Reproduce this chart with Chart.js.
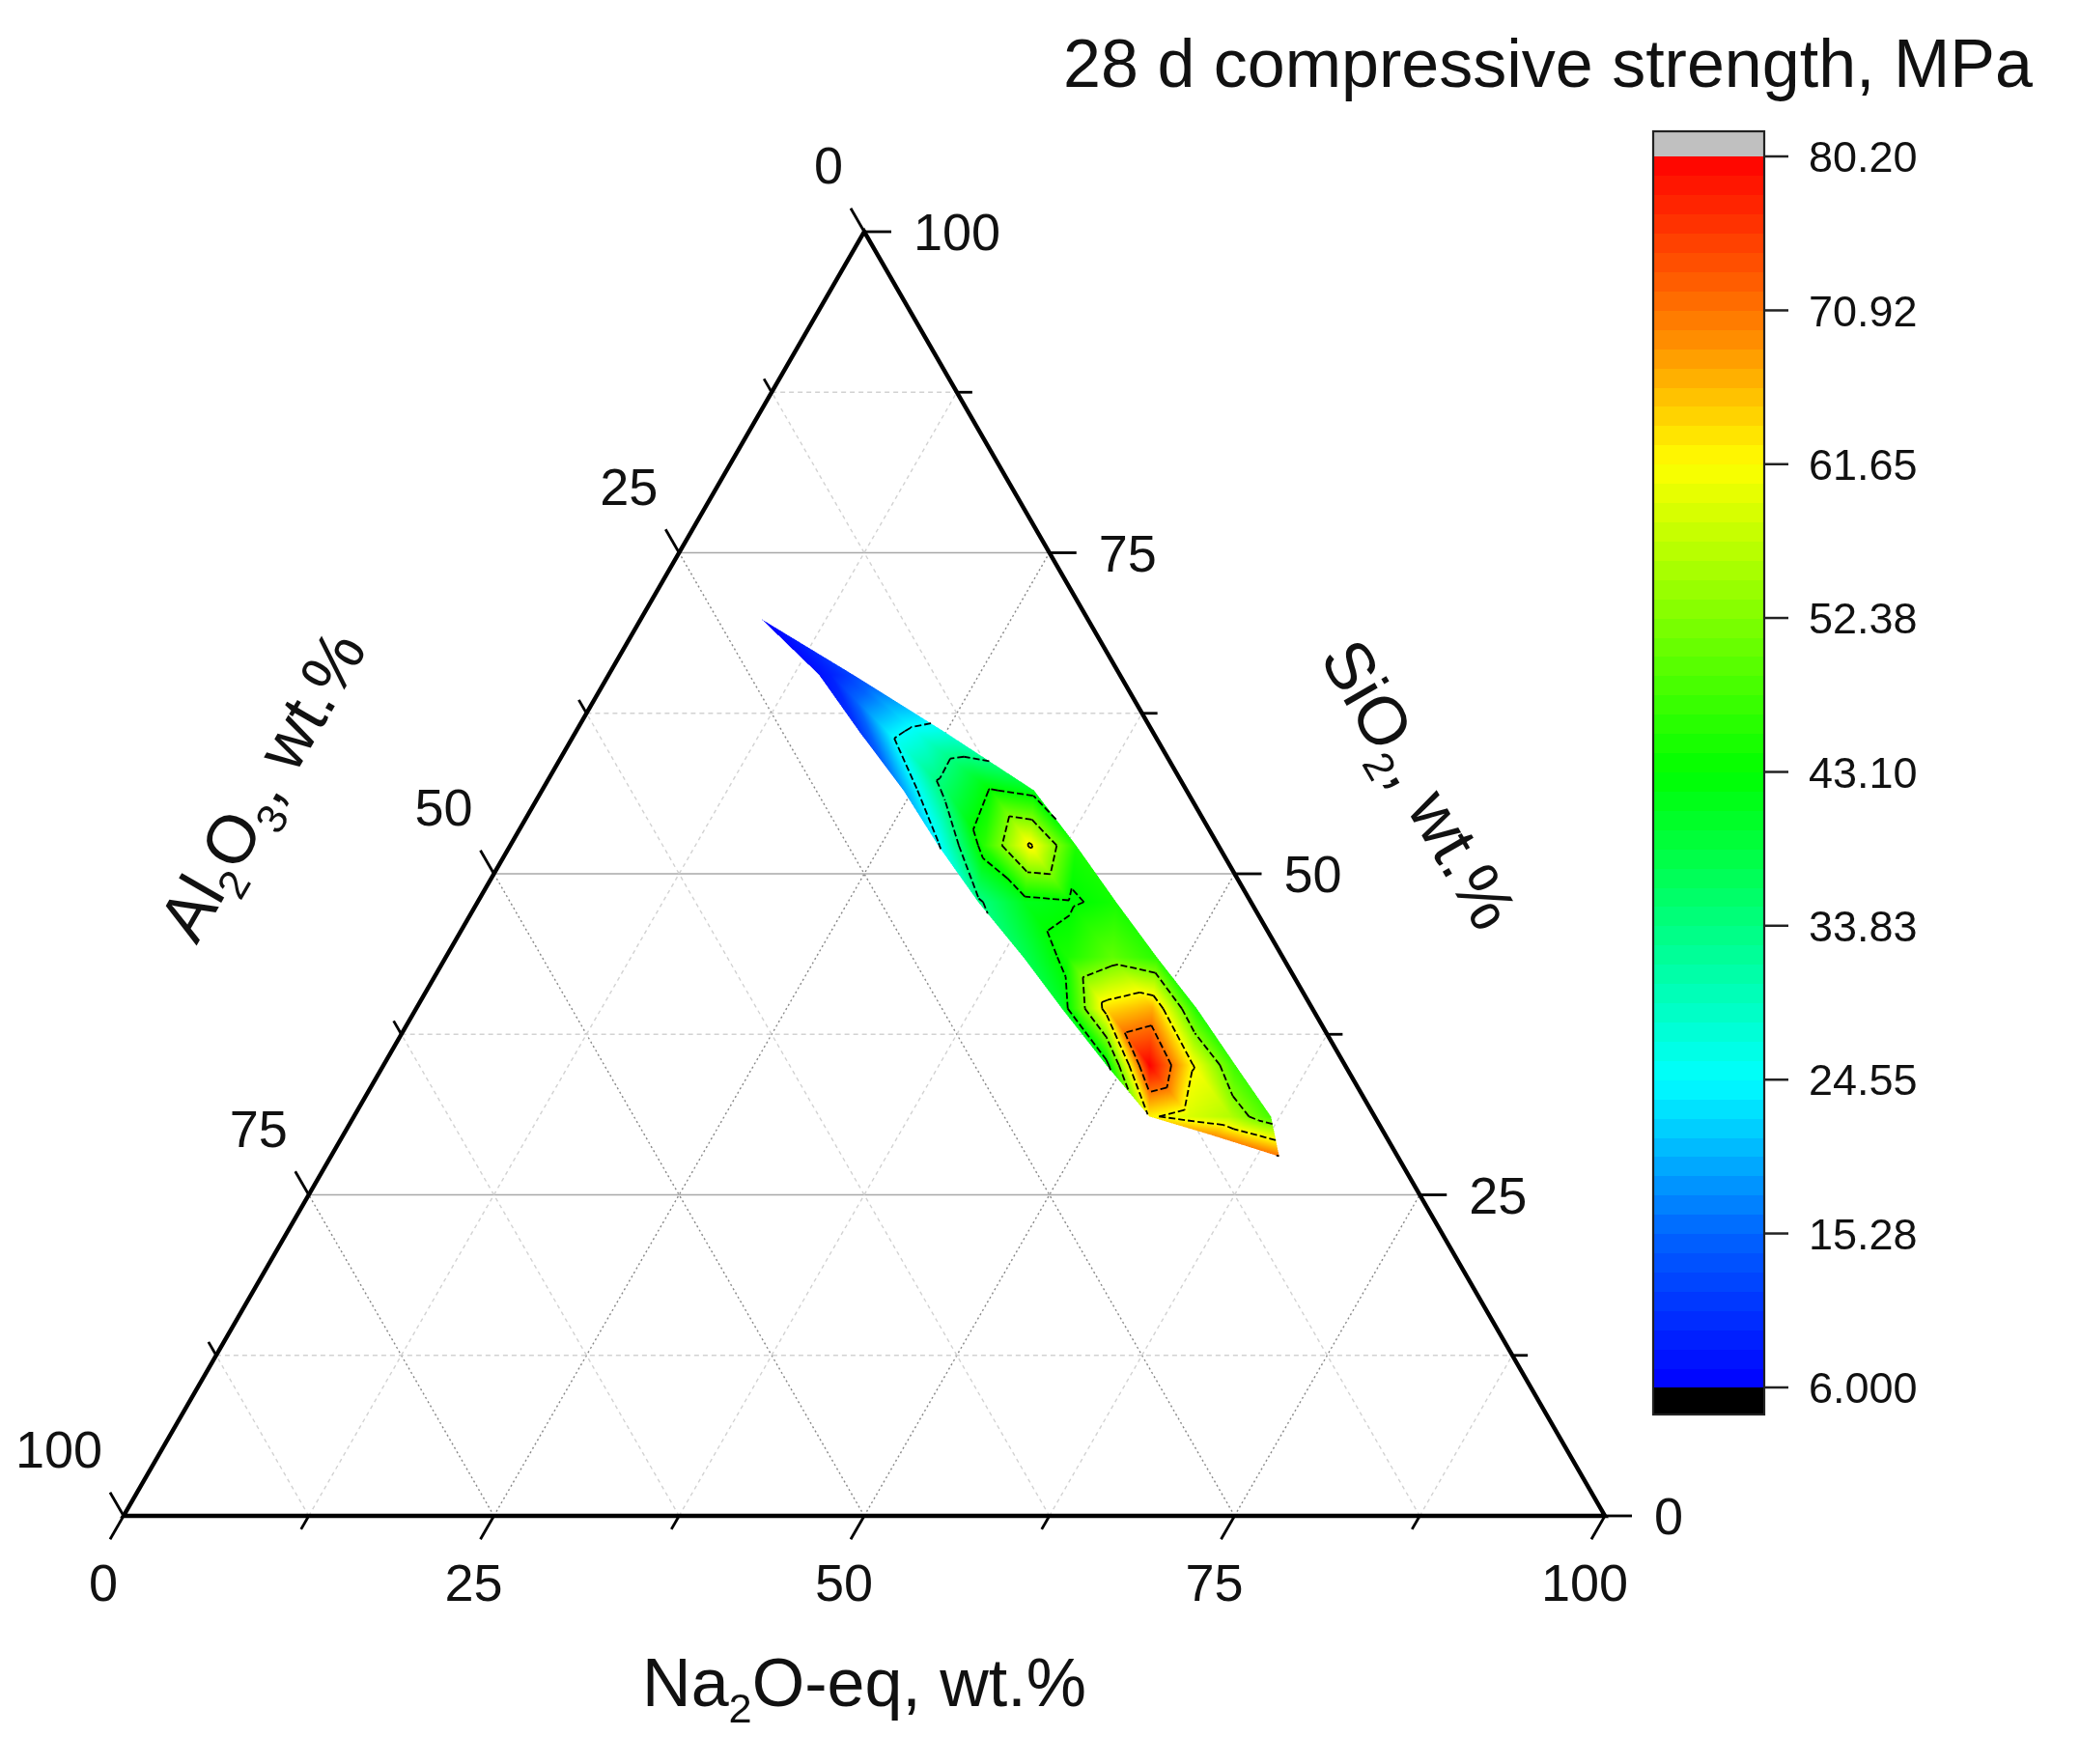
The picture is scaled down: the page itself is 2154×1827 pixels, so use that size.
<!DOCTYPE html>
<html>
<head>
<meta charset="utf-8">
<script src="https://cdn.jsdelivr.net/npm/chart.js"></script>
<style>
html, body { margin: 0; padding: 0; background: #fff; }
#wrap { width: 2154px; height: 1827px; }
</style>
</head>
<body>
<div id="wrap"><canvas id="ternary" width="2154" height="1827"></canvas></div>

<script>
// compositions (wt.%): tip point, 9 rows of 4 across the band, 2 points at the lower end
var siO2 = [69.8,
  65.5, 65.5, 65.5, 65.5,
  61.1, 61.1, 61.1, 61.1,
  56.5, 56.5, 56.5, 56.5,
  52.2, 52.2, 52.2, 52.2,
  47.8, 47.8, 47.8, 47.8,
  43.5, 43.5, 43.5, 43.5,
  39.5, 39.5, 39.5, 39.5,
  35.1, 35.1, 35.1, 35.1,
  31.1, 31.1, 31.1, 31.1,
  29.6, 28.0];
var na2O = [8.2,
  14.2, 15.0, 15.7, 16.5,
  19.1, 21.0, 22.9, 24.8,
  24.4, 27.3, 30.3, 33.2,
  28.9, 32.0, 35.1, 38.2,
  33.8, 36.9, 40.0, 43.1,
  39.0, 42.0, 45.0, 48.0,
  43.6, 46.6, 49.7, 52.7,
  48.8, 51.7, 54.6, 57.5,
  53.7, 56.4, 59.2, 61.9,
  58.8, 64.0];
// 28 d compressive strength, MPa
var strength = [6.0,
  7.5, 9.0, 10.5, 12.5,
  11.0, 23.0, 25.5, 26.5,
  19.0, 36.0, 43.5, 41.0,
  24.0, 46.0, 62.5, 45.0,
  33.0, 41.0, 42.5, 44.5,
  37.0, 45.0, 50.0, 46.0,
  40.0, 64.0, 67.0, 45.0,
  41.0, 80.2, 62.0, 47.0,
  62.5, 59.0, 56.0, 48.0,
  69.0, 71.0];
var rowSizes = [1, 4, 4, 4, 4, 4, 4, 4, 4, 4, 2];

var cmapLevels = [6.0, 15.28, 24.55, 33.83, 43.10, 52.38, 61.65, 70.92, 80.20];
var cmapLabels = ['6.000', '15.28', '24.55', '33.83', '43.10', '52.38', '61.65', '70.92', '80.20'];
var cmapColors = [[0,0,255],[0,100,255],[0,255,255],[0,255,128],[0,255,0],[128,255,0],[255,255,0],[255,115,0],[255,0,0]];
var contourLevels = [24.55, 33.83, 43.10, 52.38, 61.65, 70.92];

var majorTicks = [0, 25, 50, 75, 100];
var minorTicks = [12.5, 37.5, 62.5, 87.5];

var FONT = '"Liberation Sans", Arial, sans-serif';
var SQ = Math.sqrt(3) / 2;
</script>

<script>
// triangles of the band, stitching each row to the next
var tris = [];
(function() {
  var starts = [], s = 0;
  rowSizes.forEach(function(n) { starts.push(s); s += n; });
  for (var r = 0; r < rowSizes.length - 1; r++) {
    var a = starts[r], b = starts[r + 1], na = rowSizes[r], nb = rowSizes[r + 1];
    var i = 0, j = 0;
    while (i < na - 1 || j < nb - 1) {
      var fi = na > 1 ? (i + 1) / (na - 1) : 2, fj = nb > 1 ? (j + 1) / (nb - 1) : 2;
      if (j == nb - 1 || (i < na - 1 && fi <= fj)) {
        tris.push([a + i, a + i + 1, b + j]); i++;
      } else {
        tris.push([a + i, b + j + 1, b + j]); j++;
      }
    }
  }
})();

function colorAt(v) {
  if (v <= cmapLevels[0]) return cmapColors[0];
  for (var i = 1; i < cmapLevels.length; i++) {
    if (v <= cmapLevels[i]) {
      var t = (v - cmapLevels[i - 1]) / (cmapLevels[i] - cmapLevels[i - 1]);
      var c0 = cmapColors[i - 1], c1 = cmapColors[i];
      return [c0[0] + (c1[0] - c0[0]) * t, c0[1] + (c1[1] - c0[1]) * t, c0[2] + (c1[2] - c0[2]) * t];
    }
  }
  return cmapColors[cmapColors.length - 1];
}

function tp(chart, na, si) {
  return [chart.scales.x.getPixelForValue(na + si / 2), chart.scales.y.getPixelForValue(si * SQ)];
}

function line(ctx, p, q) {
  ctx.beginPath(); ctx.moveTo(p[0], p[1]); ctx.lineTo(q[0], q[1]); ctx.stroke();
}

function richText(ctx, parts, cx, cy, ang, size) {
  ctx.save();
  ctx.translate(cx, cy);
  ctx.rotate(ang);
  var sub = size * 0.62, w = 0;
  parts.forEach(function(p) {
    ctx.font = (p[1] ? sub : size) + 'px ' + FONT;
    w += ctx.measureText(p[0]).width;
  });
  var x = -w / 2, base = size * 0.36;
  ctx.textAlign = 'left';
  ctx.textBaseline = 'alphabetic';
  parts.forEach(function(p) {
    ctx.font = (p[1] ? sub : size) + 'px ' + FONT;
    ctx.fillText(p[0], x, base + (p[1] ? size * 0.24 : 0));
    x += ctx.measureText(p[0]).width;
  });
  ctx.restore();
}

var ternaryPlugin = {
  id: 'ternary',
  afterDatasetsDraw: function(chart) {
    var ctx = chart.ctx;
    ctx.save();

    // grid
    var grid = majorTicks.slice(1, 4).concat(minorTicks);
    grid.forEach(function(v) {
      var major = v % 25 == 0;
      ctx.lineWidth = 1.4;
      // constant SiO2 (horizontal)
      ctx.setLineDash(major ? [] : [5, 4]);
      ctx.strokeStyle = major ? '#a8a8a8' : '#d2d2d2';
      line(ctx, tp(chart, 0, v), tp(chart, 100 - v, v));
      // constant Na2O and Al2O3
      ctx.setLineDash(major ? [2, 3] : [4, 4]);
      ctx.strokeStyle = major ? '#888' : '#d2d2d2';
      line(ctx, tp(chart, v, 0), tp(chart, v, 100 - v));
      line(ctx, tp(chart, 100 - v, 0), tp(chart, 0, 100 - v));
    });
    ctx.setLineDash([]);

    // colour fill, 2x supersampled
    var SS = 2;
    var P = na2O.map(function(n, i) { return tp(chart, n, siO2[i]); });
    var xs = P.map(function(p) { return p[0]; }), ys = P.map(function(p) { return p[1]; });
    var x0 = Math.floor(Math.min.apply(null, xs)) - 2, y0 = Math.floor(Math.min.apply(null, ys)) - 2;
    var w = Math.ceil(Math.max.apply(null, xs)) - x0 + 4, h = Math.ceil(Math.max.apply(null, ys)) - y0 + 4;
    var W = w * SS, H = h * SS;
    var off = document.createElement('canvas');
    off.width = W; off.height = H;
    var octx = off.getContext('2d');
    var img = octx.createImageData(W, H), d = img.data;
    tris.forEach(function(t) {
      var A = P[t[0]], B = P[t[1]], C = P[t[2]];
      var va = strength[t[0]], vb = strength[t[1]], vc = strength[t[2]];
      var det = (B[1] - C[1]) * (A[0] - C[0]) + (C[0] - B[0]) * (A[1] - C[1]);
      var bx0 = Math.floor((Math.min(A[0], B[0], C[0]) - x0) * SS), bx1 = Math.ceil((Math.max(A[0], B[0], C[0]) - x0) * SS);
      var by0 = Math.floor((Math.min(A[1], B[1], C[1]) - y0) * SS), by1 = Math.ceil((Math.max(A[1], B[1], C[1]) - y0) * SS);
      for (var py = by0; py <= by1; py++) {
        for (var px = bx0; px <= bx1; px++) {
          var X = x0 + (px + 0.5) / SS, Y = y0 + (py + 0.5) / SS;
          var l1 = ((B[1] - C[1]) * (X - C[0]) + (C[0] - B[0]) * (Y - C[1])) / det;
          var l2 = ((C[1] - A[1]) * (X - C[0]) + (A[0] - C[0]) * (Y - C[1])) / det;
          var l3 = 1 - l1 - l2;
          if (l1 < -0.002 || l2 < -0.002 || l3 < -0.002) continue;
          if (px < 0 || py < 0 || px >= W || py >= H) continue;
          var c = colorAt(l1 * va + l2 * vb + l3 * vc);
          var k = (py * W + px) * 4;
          d[k] = c[0]; d[k + 1] = c[1]; d[k + 2] = c[2]; d[k + 3] = 255;
        }
      }
    });
    octx.putImageData(img, 0, 0);
    ctx.imageSmoothingEnabled = true;
    ctx.drawImage(off, x0, y0, w, h);

    // contour lines
    ctx.strokeStyle = '#000';
    ctx.lineWidth = 1.8;
    ctx.setLineDash([7, 3]);
    contourLevels.forEach(function(L) {
      tris.forEach(function(t) {
        var pts = [];
        for (var e = 0; e < 3; e++) {
          var i = t[e], j = t[(e + 1) % 3];
          var vi = strength[i], vj = strength[j];
          if ((vi - L) * (vj - L) < 0) {
            var f = (L - vi) / (vj - vi);
            pts.push([P[i][0] + (P[j][0] - P[i][0]) * f, P[i][1] + (P[j][1] - P[i][1]) * f]);
          }
        }
        if (pts.length == 2) line(ctx, pts[0], pts[1]);
      });
    });
    ctx.setLineDash([]);

    // axes
    ctx.strokeStyle = '#000';
    ctx.lineWidth = 4.5;
    ctx.lineCap = 'round';
    var BL = tp(chart, 0, 0), BR = tp(chart, 100, 0), TOP = tp(chart, 0, 100);
    ctx.beginPath();
    ctx.moveTo(BL[0], BL[1]); ctx.lineTo(BR[0], BR[1]); ctx.lineTo(TOP[0], TOP[1]); ctx.closePath();
    ctx.stroke();

    // ticks
    ctx.lineWidth = 2.8;
    ctx.lineCap = 'butt';
    function tick(p, dx, dy, len) { line(ctx, p, [p[0] + dx * len, p[1] + dy * len]); }
    majorTicks.concat(minorTicks).forEach(function(v) {
      var len = v % 25 == 0 ? 28 : 16;
      tick(tp(chart, v, 0), -0.5, SQ, len);            // Na2O-eq
      tick(tp(chart, 100 - v, v), 1, 0, len);          // SiO2
      tick(tp(chart, 0, 100 - v), -0.5, -SQ, len);     // Al2O3
    });

    // tick labels
    ctx.fillStyle = '#111';
    ctx.font = '54px ' + FONT;
    ctx.textBaseline = 'alphabetic';
    var lift = 54 * 0.36;
    majorTicks.forEach(function(v) {
      var p = tp(chart, v, 0);
      ctx.textAlign = 'center';
      ctx.fillText(String(v), p[0] - 21, p[1] + 69 + lift);
      p = tp(chart, 100 - v, v);
      ctx.textAlign = 'left';
      ctx.fillText(String(v), p[0] + 51, p[1] + lift);
      p = tp(chart, 0, 100 - v);
      ctx.textAlign = 'right';
      ctx.fillText(String(v), p[0] - 22, p[1] - 69 + lift);
    });

    // axis titles
    var mb = tp(chart, 50, 0), ml = tp(chart, 0, 50), mr = tp(chart, 50, 50);
    richText(ctx, [['Na', 0], ['2', 1], ['O-eq, wt.%', 0]], mb[0], mb[1] + 172, 0, 70);
    richText(ctx, [['Al', 0], ['2', 1], ['O', 0], ['3', 1], [', wt.%', 0]], ml[0] - 241, ml[1] - 92, -Math.PI / 3, 70);
    richText(ctx, [['SiO', 0], ['2', 1], [', wt.%', 0]], mr[0] + 192, mr[1] - 93, Math.PI / 3, 70);

    // colour scale
    var cbL = 1712, cbR = 1827, cbT = 136, cbB = 1465, yMax = 162, yMin = 1437;
    var vmin = cmapLevels[0], vmax = cmapLevels[cmapLevels.length - 1];
    function cbY(v) { return yMin - (v - vmin) / (vmax - vmin) * (yMin - yMax); }
    ctx.fillStyle = '#c0c0c0';
    ctx.fillRect(cbL, cbT, cbR - cbL, yMax - cbT);
    ctx.fillStyle = '#000';
    ctx.fillRect(cbL, yMin, cbR - cbL, cbB - yMin);
    var nb = 64;
    for (var i = 0; i < nb; i++) {
      var v0 = vmin + (vmax - vmin) * i / nb, v1 = vmin + (vmax - vmin) * (i + 1) / nb;
      var c = colorAt((v0 + v1) / 2);
      ctx.fillStyle = 'rgb(' + Math.round(c[0]) + ',' + Math.round(c[1]) + ',' + Math.round(c[2]) + ')';
      var ya = cbY(v1), yb = cbY(v0);
      ctx.fillRect(cbL, Math.floor(ya), cbR - cbL, Math.ceil(yb) - Math.floor(ya));
    }
    ctx.strokeStyle = '#222';
    ctx.lineWidth = 2.2;
    ctx.strokeRect(cbL, cbT, cbR - cbL, cbB - cbT);
    ctx.lineWidth = 2.5;
    ctx.fillStyle = '#111';
    ctx.font = '45px ' + FONT;
    ctx.textAlign = 'left';
    cmapLevels.forEach(function(v, i) {
      var y = cbY(v);
      line(ctx, [cbR, y], [cbR + 25, y]);
      ctx.fillText(cmapLabels[i], cbR + 46, y + 45 * 0.36);
    });

    // title
    richText(ctx, [['28 d compressive strength, MPa', 0]], 1603, 65, 0, 70);

    ctx.restore();
  }
};

new Chart(document.getElementById('ternary'), {
  type: 'scatter',
  data: {
    datasets: [{
      data: na2O.map(function(n, i) { return {x: n + siO2[i] / 2, y: siO2[i] * SQ}; }),
      pointRadius: 0
    }]
  },
  options: {
    responsive: false,
    animation: false,
    devicePixelRatio: 1,
    layout: { padding: { left: 128, right: 492, top: 240, bottom: 257 } },
    scales: {
      x: { type: 'linear', min: 0, max: 100, display: false },
      y: { type: 'linear', min: 0, max: 100 * SQ, display: false }
    },
    plugins: { legend: { display: false }, tooltip: { enabled: false } }
  },
  plugins: [ternaryPlugin]
});
</script>
</body>
</html>
